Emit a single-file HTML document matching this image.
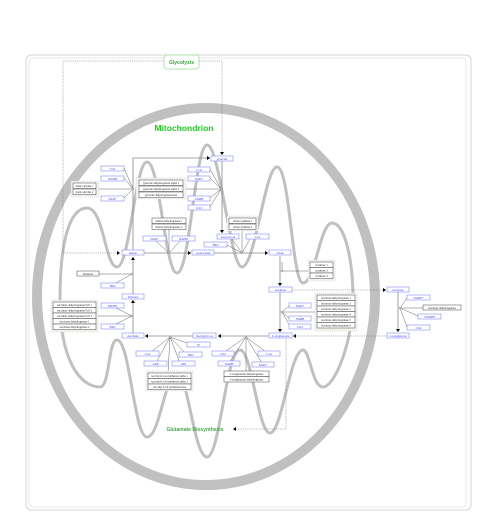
<!DOCTYPE html>
<html><head><meta charset="utf-8"><style>
html,body{margin:0;padding:0;background:#fff;}
svg{display:block;}
text{font-family:"Liberation Serif",serif;}
.b rect{fill:#fff;stroke:#8888ff;stroke-width:0.6;}
.b text{fill:#3333ff;font-size:3px;text-anchor:middle;}
.e rect{fill:#fff;stroke:#444;stroke-width:0.5;}
.e text{fill:#222;font-size:2.8px;text-anchor:middle;}
.g{fill:#f4f4ee;stroke:#ccc;stroke-width:0.6;stroke-dasharray:1 1;}
.l{stroke:#666;stroke-width:0.5;fill:none;}
.m{stroke:#888;stroke-width:0.8;fill:none;}
.d{stroke:#777;stroke-width:0.5;fill:none;stroke-dasharray:1.2 1;}
</style></head><body>
<svg width="480" height="519" viewBox="0 0 480 519" xmlns="http://www.w3.org/2000/svg">
<defs><marker id="a" markerWidth="4" markerHeight="4" refX="3" refY="2" orient="auto" markerUnits="userSpaceOnUse"><path d="M0,0 L3,2 L0,4z" fill="#000"/></marker></defs>
<rect x="26" y="55" width="445" height="455" rx="5" fill="#fff" stroke="#d4d4d4" stroke-width="1"/>
<rect x="29" y="58" width="437" height="449" rx="4" fill="none" stroke="#e0e0e0" stroke-width="0.8"/>
<ellipse cx="206" cy="296.5" rx="169" ry="188.5" fill="none" stroke="#c0c0c0" stroke-width="10"/>
<path d="M60,300 C60,240 70,208 87,208 C104,208 105,267 117,267 C130,267 135,162 147,162 C160,162 165,273 177,273 C190,273 195,145 207,145 C220,145 230,267 242,267 C255,267 265,167 277,167 C290,167 292,283 303,283 C315,283 320,223 332,223 C345,223 353,260 353,300 C353,340 335,387 323,387 C312,387 310,350 303,350 C290,350 282,433 270,433 C258,433 252,350 240,350 C226,350 220,457 207,457 C194,457 188,373 177,373 C165,373 160,437 147,437 C134,437 130,340 117,340 C108,340 110,387 100,387 C80,387 60,360 60,300 Z" fill="none" stroke="#c0c0c0" stroke-width="3"/>
<text x="184" y="131" font-size="8.5" font-weight="bold" fill="#22cc22" text-anchor="middle" style="font-family:'Liberation Sans',sans-serif">Mitochondrion</text>
<text x="195" y="431" font-size="5" font-weight="bold" fill="#44aa44" text-anchor="middle" style="font-family:'Liberation Sans',sans-serif">Glutamate Biosynthesis</text>
<rect x="164" y="55" width="35" height="14" rx="3" fill="#fff" stroke="#99dd99" stroke-width="0.7"/>
<text x="181.5" y="64" font-size="5" font-weight="bold" fill="#33aa33" text-anchor="middle" style="font-family:'Liberation Sans',sans-serif">Glycolysis</text>
<path class="d" d="M164,61 H63 V253 H120" marker-end="url(#a)"/>
<path class="d" d="M199,61 H222 V155" marker-end="url(#a)"/>
<path class="d" d="M286,339 V429 H233" marker-end="url(#a)"/>
<path class="d" d="M292,290 H386" marker-end="url(#a)"/>
<path class="d" d="M387,336 H293" marker-end="url(#a)"/>
<path class="m" d="M133,250 V158 H210" marker-end="url(#a)"/>
<path class="m" d="M144,253 H191" marker-end="url(#a)"/>
<path class="m" d="M214,253 H268" marker-end="url(#a)"/>
<path class="m" d="M280,256 V286" marker-end="url(#a)"/>
<path class="m" d="M280,292 V332" marker-end="url(#a)"/>
<path class="m" d="M269,336 H218" marker-end="url(#a)"/>
<path class="m" d="M193,336 H145" marker-end="url(#a)"/>
<path class="m" d="M133,333 V300" marker-end="url(#a)"/>
<path class="m" d="M133,294 V257" marker-end="url(#a)"/>
<path class="m" d="M222,161 V233" marker-end="url(#a)"/>
<path class="m" d="M398,292 V332" marker-end="url(#a)"/>
<g class="l">
<path d="M96,189 H133 M124,168 L133,189 M124,178 L133,189 M124,198 L133,189"/>
<path d="M183,189 H221 M210,169 L221,189 M210,178 L221,189 M210,198 L221,189 M210,207 L221,189"/>
<path d="M169,229 V253 M156,241 L169,253 L180,241"/>
<path d="M242,229 V253 M227,245 L242,253 L250,239 M232,239 L242,253"/>
<path d="M99,274 H132 M112,285 L132,274"/>
<path d="M96,316 H132 M112,306 L132,316 M112,326 L132,316"/>
<path d="M282,271 H310 M282,271 V262"/>
<path d="M282,312 H317 M289,306 L282,312 L289,318 M282,312 L290,326"/>
<path d="M400,308 H423 M400,308 L407,298 M400,308 L418,316 M400,308 L407,327"/>
<path d="M170,337 L150,353 M170,337 L156,363 M170,337 L168,373 M170,337 L180,363 M170,337 L186,354 M170,337 L190,344"/>
<path d="M246,337 L223,353 M246,337 L229,363 M246,337 L246,371 M246,337 L262,363 M246,337 L266,352"/>
</g>
<g fill="#fff" stroke="#555" stroke-width="0.4">
<circle cx="133" cy="189" r="1"/><circle cx="221" cy="189" r="1"/><circle cx="169" cy="253" r="1"/><circle cx="242" cy="253" r="1"/><circle cx="132" cy="274" r="1"/><circle cx="132" cy="316" r="1"/><circle cx="282" cy="271" r="1"/><circle cx="282" cy="312" r="1"/><circle cx="170" cy="337" r="1"/><circle cx="246" cy="337" r="1"/><circle cx="400" cy="308" r="1"/>
</g>
<rect class="g" x="71" y="181" width="28" height="16"/>
<rect class="g" x="136" y="178" width="50" height="21"/>
<rect class="g" x="227" y="216" width="31" height="15"/>
<rect class="g" x="51" y="300" width="47" height="32"/>
<rect class="g" x="308" y="260" width="27" height="21"/>
<rect class="g" x="315" y="293" width="42" height="38"/>
<rect class="g" x="146" y="371" width="47" height="20"/>
<g class="e">
<rect x="73" y="183" width="23" height="5.5"/><text x="84.5" y="187">malic enzyme 1</text>
<rect x="73" y="189" width="23" height="5.5"/><text x="84.5" y="193">malic enzyme 2</text>
<rect x="139" y="180" width="44" height="5.5"/><text x="161" y="184">pyruvate dehydrogenase alpha 1</text>
<rect x="139" y="186" width="44" height="5.5"/><text x="161" y="190">pyruvate dehydrogenase alpha 2</text>
<rect x="139" y="192" width="44" height="5.5"/><text x="161" y="196">pyruvate dehydrogenase beta</text>
<rect x="152" y="218" width="34" height="5.5"/><text x="169" y="222">malate dehydrogenase 1</text>
<rect x="152" y="224" width="34" height="5.5"/><text x="169" y="228">malate dehydrogenase 2</text>
<rect x="229" y="218" width="27" height="5.5"/><text x="242.5" y="222">citrate synthase 1</text>
<rect x="229" y="224" width="27" height="5.5"/><text x="242.5" y="228">citrate synthase 2</text>
<rect x="77" y="271" width="22" height="5"/><text x="88" y="275">fumarase</text>
<rect x="53" y="302" width="43" height="5.5"/><text x="74.5" y="306">succinate dehydrogenase FeS 1</text>
<rect x="53" y="307.5" width="43" height="5.5"/><text x="74.5" y="311.5">succinate dehydrogenase FeS 2</text>
<rect x="53" y="313" width="43" height="5.5"/><text x="74.5" y="317">succinate dehydrogenase FeS 3</text>
<rect x="53" y="318.5" width="43" height="5.5"/><text x="74.5" y="322.5">succinate dehydrogenase 1</text>
<rect x="53" y="324" width="43" height="5.5"/><text x="74.5" y="328">succinate dehydrogenase 2</text>
<rect x="310" y="262" width="23" height="5.5"/><text x="321.5" y="266">aconitase 1</text>
<rect x="310" y="267.5" width="23" height="5.5"/><text x="321.5" y="271.5">aconitase 2</text>
<rect x="310" y="273" width="23" height="5.5"/><text x="321.5" y="277">aconitase 3</text>
<rect x="317" y="295" width="38" height="5.5"/><text x="336" y="299">isocitrate dehydrogenase 1</text>
<rect x="317" y="300.5" width="38" height="5.5"/><text x="336" y="304.5">isocitrate dehydrogenase 2</text>
<rect x="317" y="306" width="38" height="5.5"/><text x="336" y="310">isocitrate dehydrogenase 3</text>
<rect x="317" y="311.5" width="38" height="5.5"/><text x="336" y="315.5">isocitrate dehydrogenase 4</text>
<rect x="317" y="317" width="38" height="5.5"/><text x="336" y="321">isocitrate dehydrogenase 5</text>
<rect x="317" y="322.5" width="38" height="5.5"/><text x="336" y="326.5">isocitrate dehydrogenase 6</text>
<rect x="423" y="305" width="38" height="5"/><text x="442" y="309">isocitrate dehydrogenase</text>
<rect x="148" y="373" width="43" height="5.5"/><text x="169.5" y="377">succinyl-CoA synthetase alpha 1</text>
<rect x="148" y="378.5" width="43" height="5.5"/><text x="169.5" y="382.5">succinyl-CoA synthetase alpha 2</text>
<rect x="148" y="384" width="43" height="5.5"/><text x="169.5" y="388">succinyl-CoA synthetase beta</text>
<rect x="224" y="371" width="45" height="5.5"/><text x="246.5" y="375">2-oxoglutarate dehydrogenase</text>
<rect x="224" y="376.5" width="45" height="5.5"/><text x="246.5" y="380.5">2-oxoglutarate dehydrogenase</text>
</g>
<g class="b">
<rect x="211" y="156" width="22" height="5"/><text x="222" y="160">pyruvate</text>
<rect x="101" y="166" width="23" height="5"/><text x="112.5" y="170">CO2</text>
<rect x="101" y="176" width="23" height="5"/><text x="112.5" y="180">NADH</text>
<rect x="101" y="196" width="23" height="5"/><text x="112.5" y="200">NAD+</text>
<rect x="188" y="167" width="22" height="5"/><text x="199" y="171">CoA</text>
<rect x="188" y="176" width="22" height="5"/><text x="199" y="180">NAD+</text>
<rect x="188" y="196" width="22" height="5"/><text x="199" y="200">NADH</text>
<rect x="188" y="205" width="22" height="5"/><text x="199" y="209">CO2</text>
<rect x="143" y="236" width="23" height="5"/><text x="154.5" y="240">NAD+</text>
<rect x="172" y="236" width="23" height="5"/><text x="183.5" y="240">NADH</text>
<rect x="217" y="234" width="22" height="5"/><text x="228" y="238">Acetyl-CoA</text>
<rect x="246" y="234" width="23" height="5"/><text x="257.5" y="238">CoA</text>
<rect x="204" y="242" width="23" height="5"/><text x="215.5" y="246">H2O</text>
<rect x="122" y="250" width="22" height="5"/><text x="133" y="254">malate</text>
<rect x="192" y="250" width="22" height="5"/><text x="203" y="254">oxaloacetate</text>
<rect x="269" y="250" width="22" height="5"/><text x="280" y="254">citrate</text>
<rect x="101" y="283" width="23" height="5"/><text x="112.5" y="287">H2O</text>
<rect x="122" y="294" width="22" height="5"/><text x="133" y="298">fumarate</text>
<rect x="101" y="303" width="23" height="5"/><text x="112.5" y="307">FADH2</text>
<rect x="101" y="324" width="23" height="5"/><text x="112.5" y="328">FAD</text>
<rect x="122" y="333" width="22" height="5"/><text x="133" y="337">succinate</text>
<rect x="193" y="333" width="23" height="5"/><text x="204.5" y="337">Succinyl-CoA</text>
<rect x="187" y="342" width="23" height="5"/><text x="198.5" y="346">Pi</text>
<rect x="136" y="351" width="23" height="5"/><text x="147.5" y="355">CoA</text>
<rect x="144" y="361" width="23" height="5"/><text x="155.5" y="365">ADP</text>
<rect x="172" y="361" width="23" height="5"/><text x="183.5" y="365">ATP</text>
<rect x="179" y="352" width="23" height="5"/><text x="190.5" y="356">H2O</text>
<rect x="212" y="351" width="22" height="5"/><text x="223" y="355">CO2</text>
<rect x="218" y="361" width="22" height="5"/><text x="229" y="365">NADH</text>
<rect x="252" y="362" width="22" height="5"/><text x="263" y="366">NAD+</text>
<rect x="258" y="351" width="22" height="5"/><text x="269" y="355">CoA</text>
<rect x="269" y="333" width="23" height="5"/><text x="280.5" y="337">2-oxoglutarate</text>
<rect x="269" y="287" width="23" height="5"/><text x="280.5" y="291">isocitrate</text>
<rect x="289" y="303" width="22" height="5"/><text x="300" y="307">NAD+</text>
<rect x="289" y="316" width="22" height="5"/><text x="300" y="320">NADH</text>
<rect x="289" y="324" width="22" height="5"/><text x="300" y="328">CO2</text>
<rect x="387" y="287" width="22" height="5"/><text x="398" y="291">isocitrate</text>
<rect x="407" y="295" width="23" height="5"/><text x="418.5" y="299">NADP+</text>
<rect x="418" y="314" width="23" height="5"/><text x="429.5" y="318">NADPH</text>
<rect x="407" y="325" width="23" height="5"/><text x="418.5" y="329">CO2</text>
<rect x="387" y="333" width="22" height="5"/><text x="398" y="337">2-oxoglutarate</text>
</g>
</svg>
</body></html>
